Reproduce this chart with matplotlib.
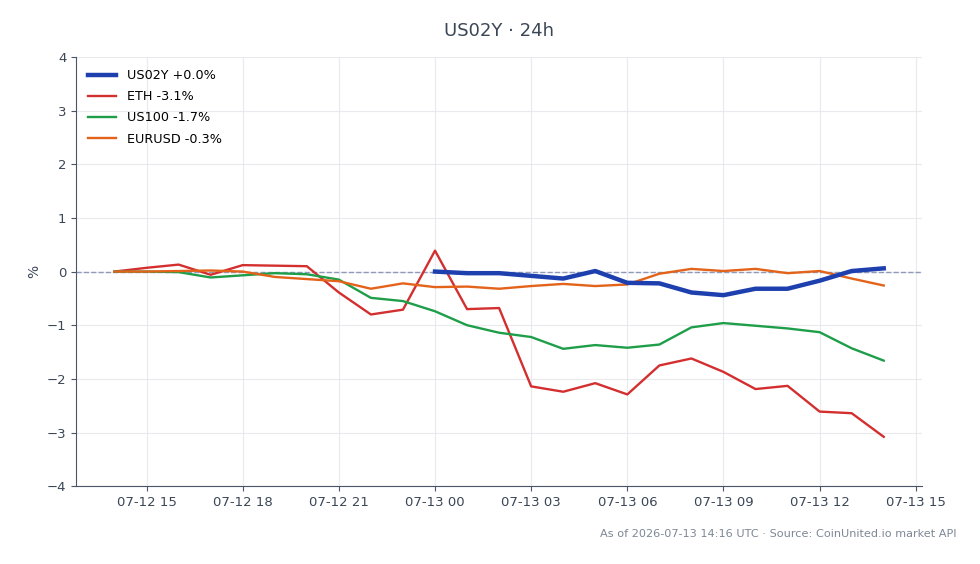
import matplotlib
matplotlib.use("Agg")
import matplotlib.pyplot as plt
import matplotlib.dates as mdates
import pandas as pd

# hourly timestamps, 07-12 14:00 .. 07-13 14:00 (UTC)
times = pd.date_range("2026-07-12 14:00", "2026-07-13 14:00", freq="h")

eth = [0.00, 0.07, 0.13, -0.06, 0.12, 0.11, 0.10, -0.39, -0.80, -0.71,
       0.39, -0.70, -0.68, -2.14, -2.24, -2.08, -2.29, -1.75, -1.62, -1.87,
       -2.19, -2.13, -2.61, -2.64, -3.08]
us100 = [0.00, 0.00, -0.01, -0.11, -0.07, -0.03, -0.05, -0.15, -0.49, -0.55,
         -0.74, -1.00, -1.14, -1.22, -1.44, -1.37, -1.42, -1.36, -1.04, -0.96,
         -1.01, -1.06, -1.13, -1.43, -1.66]
eurusd = [0.00, 0.00, 0.01, 0.02, 0.00, -0.10, -0.14, -0.18, -0.32, -0.22,
          -0.29, -0.28, -0.32, -0.27, -0.23, -0.27, -0.24, -0.04, 0.05, 0.01,
          0.05, -0.03, 0.01, -0.13, -0.26]
# US02Y only starts at 07-13 00:00
us02y = [0.00, -0.03, -0.03, -0.08, -0.13, 0.01, -0.21, -0.22, -0.39, -0.44,
         -0.32, -0.32, -0.17, 0.01, 0.06]
us02y_times = times[-len(us02y):]

labels = ["US02Y +0.0%", "ETH -3.1%", "US100 -1.7%", "EURUSD -0.3%"]

TEXT = "#3b4656"
AXIS = "#4a5568"

fig, ax = plt.subplots(figsize=(9.8, 5.64), dpi=100)
fig.subplots_adjust(left=0.0776, right=0.941, top=0.899, bottom=0.138)

ax.grid(True, color="#e8eaee", linewidth=0.8)
ax.set_axisbelow(True)
ax.axhline(0, color="#8f99b8", linestyle="--", linewidth=1.0, zorder=1)

ax.plot(us02y_times, us02y, color="#1e40af", linewidth=3.2, label=labels[0], zorder=5)
ax.plot(times, eth, color="#d32f2f", linewidth=1.7, label=labels[1])
ax.plot(times, us100, color="#1f9e4a", linewidth=1.7, label=labels[2])
ax.plot(times, eurusd, color="#e3631b", linewidth=1.7, label=labels[3])

ax.set_ylim(-4, 4)
ax.set_yticks(range(-4, 5))
ax.xaxis.set_major_locator(mdates.HourLocator(byhour=range(0, 24, 3)))
ax.xaxis.set_major_formatter(mdates.DateFormatter("%m-%d %H"))

for side in ("top", "right"):
    ax.spines[side].set_visible(False)
for side in ("left", "bottom"):
    ax.spines[side].set_color(AXIS)
ax.tick_params(colors=AXIS, labelcolor=TEXT, labelsize=9.5)

ax.set_ylabel("%", color=TEXT, fontsize=10)
ax.set_title("US02Y · 24h", color=TEXT, fontsize=13, pad=15)

ax.legend(loc="upper left", frameon=False, fontsize=9.2, handlelength=2.2,
          labelspacing=0.64, borderaxespad=0.55)

fig.text(0.976, 0.053, "As of 2026-07-13 14:16 UTC · Source: CoinUnited.io market API",
         ha="right", va="center", fontsize=8.15, color="#7d8796")

fig.savefig("out.png", dpi=100)
